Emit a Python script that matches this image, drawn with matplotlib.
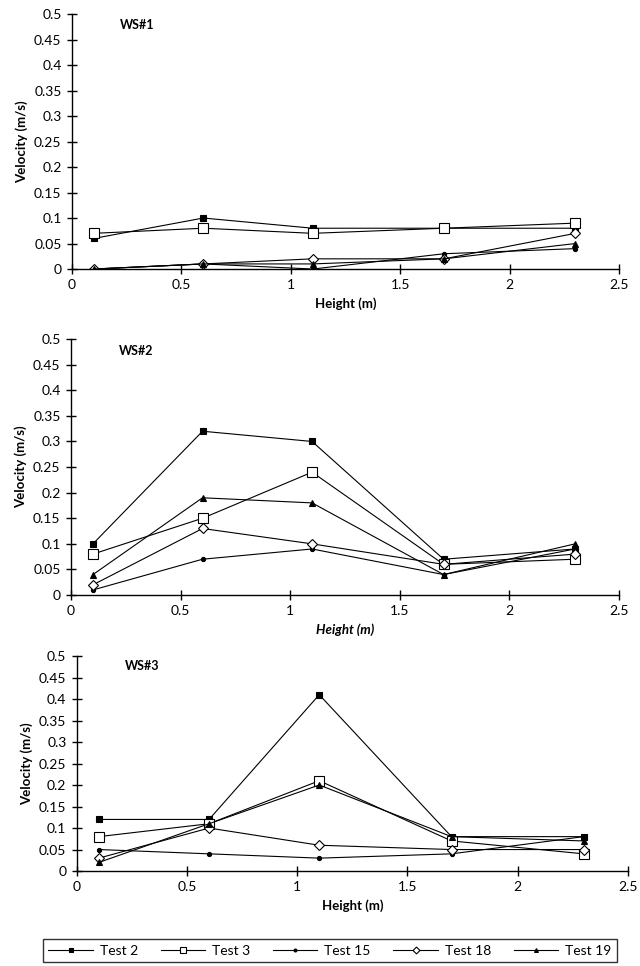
import matplotlib.pyplot as plt
import numpy as np

plt.rcParams['font.family'] = ['Lato', 'DejaVu Sans']

heights = [0.1, 0.6, 1.1, 1.7, 2.3]
tests = ["Test 2", "Test 3", "Test 15", "Test 18", "Test 19"]

# velocity (m/s) per station, one list per test
ws1 = {
    "Test 2": [0.06, 0.10, 0.08, 0.08, 0.08],
    "Test 3": [0.07, 0.08, 0.07, 0.08, 0.09],
    "Test 15": [0.00, 0.01, 0.00, 0.03, 0.04],
    "Test 18": [0.00, 0.01, 0.02, 0.02, 0.07],
    "Test 19": [0.00, 0.01, 0.01, 0.02, 0.05],
}
ws2 = {
    "Test 2": [0.10, 0.32, 0.30, 0.07, 0.09],
    "Test 3": [0.08, 0.15, 0.24, 0.06, 0.07],
    "Test 15": [0.01, 0.07, 0.09, 0.04, 0.09],
    "Test 18": [0.02, 0.13, 0.10, 0.06, 0.08],
    "Test 19": [0.04, 0.19, 0.18, 0.04, 0.10],
}
ws3 = {
    "Test 2": [0.12, 0.12, 0.41, 0.08, 0.08],
    "Test 3": [0.08, 0.11, 0.21, 0.07, 0.04],
    "Test 15": [0.05, 0.04, 0.03, 0.04, 0.08],
    "Test 18": [0.03, 0.10, 0.06, 0.05, 0.05],
    "Test 19": [0.02, 0.11, 0.20, 0.08, 0.07],
}
stations = ["WS#1", "WS#2", "WS#3"]

styles = {
    "Test 2": dict(marker='s', ms=4, mfc='black'),
    "Test 3": dict(marker='s', ms=7, mfc='white'),
    "Test 15": dict(marker='o', ms=3, mfc='black'),
    "Test 18": dict(marker='D', ms=5, mfc='white'),
    "Test 19": dict(marker='^', ms=4, mfc='black'),
}

yticks = np.arange(0, 0.51, 0.05)
ytick_labels = ["0", "0.05", "0.1", "0.15", "0.2", "0.25", "0.3", "0.35", "0.4", "0.45", "0.5"]
xticks = [0, 0.5, 1, 1.5, 2, 2.5]
xtick_labels = ["0", "0.5", "1", "1.5", "2", "2.5"]

fig = plt.figure(figsize=(6.4, 9.66), dpi=100)
# axes boxes in figure fractions
boxes = [
    [0.1125, 0.7215, 0.855, 0.264],
    [0.111, 0.384, 0.856, 0.265],
    [0.120, 0.0983, 0.861, 0.2226],
]
xlabel_style = ['normal', 'italic', 'normal']

handles = []
for i, data in enumerate([ws1, ws2, ws3]):
    ax = fig.add_axes(boxes[i])
    for t in tests:
        ln, = ax.plot(heights, data[t], color='black', lw=0.8, mec='black',
                      mew=0.8, label=t, **styles[t])
        if i == 0:
            handles.append(ln)
    ax.set_xlim(0, 2.5)
    ax.set_ylim(0, 0.5)
    ax.set_xticks(xticks)
    ax.set_xticklabels(xtick_labels)
    ax.set_yticks(yticks)
    ax.set_yticklabels(ytick_labels)
    ax.spines['top'].set_visible(False)
    ax.spines['right'].set_visible(False)
    ax.spines['left'].set_linewidth(1.0)
    ax.spines['bottom'].set_linewidth(1.0)
    ax.tick_params(direction='inout', length=7, width=1, labelsize=10, pad=4)
    ax.set_xlabel("Height (m)", fontsize=9.5, fontweight='bold',
                  fontstyle=xlabel_style[i], labelpad=4)
    ax.set_ylabel("Velocity (m/s)", fontsize=9.5, fontweight='bold', labelpad=4)
    ax.text(0.088, 0.955, stations[i], transform=ax.transAxes, fontsize=9,
            fontweight='bold', va='center', ha='left')

fig.legend(handles, tests, loc='lower left', bbox_to_anchor=(0.067, 0.004, 0.897, 0.033),
           mode='expand', ncol=5, frameon=True, fancybox=False, edgecolor='black',
           fontsize=10, handlelength=3.2, handletextpad=0.5, columnspacing=1.0,
           borderaxespad=0, borderpad=0.4, markerscale=0.7)

plt.savefig("out.png", dpi=100)
